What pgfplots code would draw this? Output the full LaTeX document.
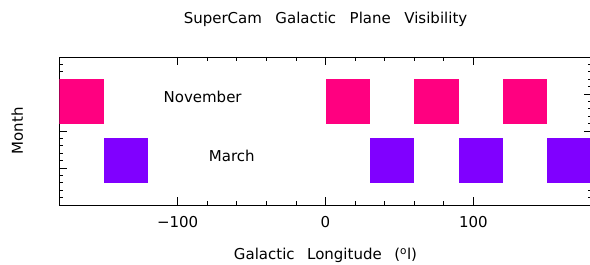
\documentclass[border=0pt]{standalone}
\usepackage{pgfplots}
\pgfplotsset{compat=1.18}
\usepackage{fontspec}
\setmainfont{DejaVu Sans}
\definecolor{nov}{RGB}{255,0,128}
\definecolor{mar}{RGB}{128,0,255}
\newcommand{\gap}{\hspace{13.5pt}}
\newcommand{\xgap}{\hspace{12.5pt}}
\begin{document}
\begin{tikzpicture}[font=\fontsize{15}{18}\selectfont]
\useasboundingbox (0,0) rectangle (590pt,265pt);
\begin{axis}[
  at={(59.3pt,60pt)}, anchor=south west,
  scale only axis, width=532.4pt, height=148pt,
  xmin=-180, xmax=180, ymin=0, ymax=2,
  xtick={-100,0,100}, xticklabels={−100,0,100},
  minor x tick num=4,
  ytick={0,0.5,1,1.5,2}, yticklabels={},
  minor y tick num=4,
  major tick length=8pt, minor tick length=4pt,
  tick style={black, line width=0.8pt},
  axis line style={black, line width=0.8pt},
  tick align=inside,
  xtick pos=both, ytick pos=both,
  title={SuperCam\gap Galactic\gap Plane\gap Visibility},
  title style={at={(axis description cs:0.5,1.215)}, anchor=center, yshift=0pt},
  xlabel={Galactic\xgap Longitude\xgap (\textsuperscript{o}l)},
  xlabel style={at={(axis description cs:0.5,-0.34)}, anchor=center},
  ylabel={Month},
  ylabel style={at={(axis description cs:-0.079,0.5)}, anchor=center},
  xticklabel style={yshift=-8pt},
  clip=true,
]
% November
\addplot[fill=nov, draw=none] coordinates {(-180,1.1) (-150,1.1) (-150,1.7) (-180,1.7)} --cycle;
\addplot[fill=nov, draw=none] coordinates {(0,1.1) (30,1.1) (30,1.7) (0,1.7)} --cycle;
\addplot[fill=nov, draw=none] coordinates {(60,1.1) (90,1.1) (90,1.7) (60,1.7)} --cycle;
\addplot[fill=nov, draw=none] coordinates {(120,1.1) (150,1.1) (150,1.7) (120,1.7)} --cycle;
% March
\addplot[fill=mar, draw=none] coordinates {(-150,0.3) (-120,0.3) (-120,0.9) (-150,0.9)} --cycle;
\addplot[fill=mar, draw=none] coordinates {(30,0.3) (60,0.3) (60,0.9) (30,0.9)} --cycle;
\addplot[fill=mar, draw=none] coordinates {(90,0.3) (120,0.3) (120,0.9) (90,0.9)} --cycle;
\addplot[fill=mar, draw=none] coordinates {(150,0.3) (180,0.3) (180,0.9) (150,0.9)} --cycle;
\node[anchor=west, inner sep=0pt] at (axis cs:-109.6,1.46) {November};
\node[anchor=west, inner sep=0pt] at (axis cs:-79,0.66) {March};
\end{axis}
\end{tikzpicture}
\end{document}
